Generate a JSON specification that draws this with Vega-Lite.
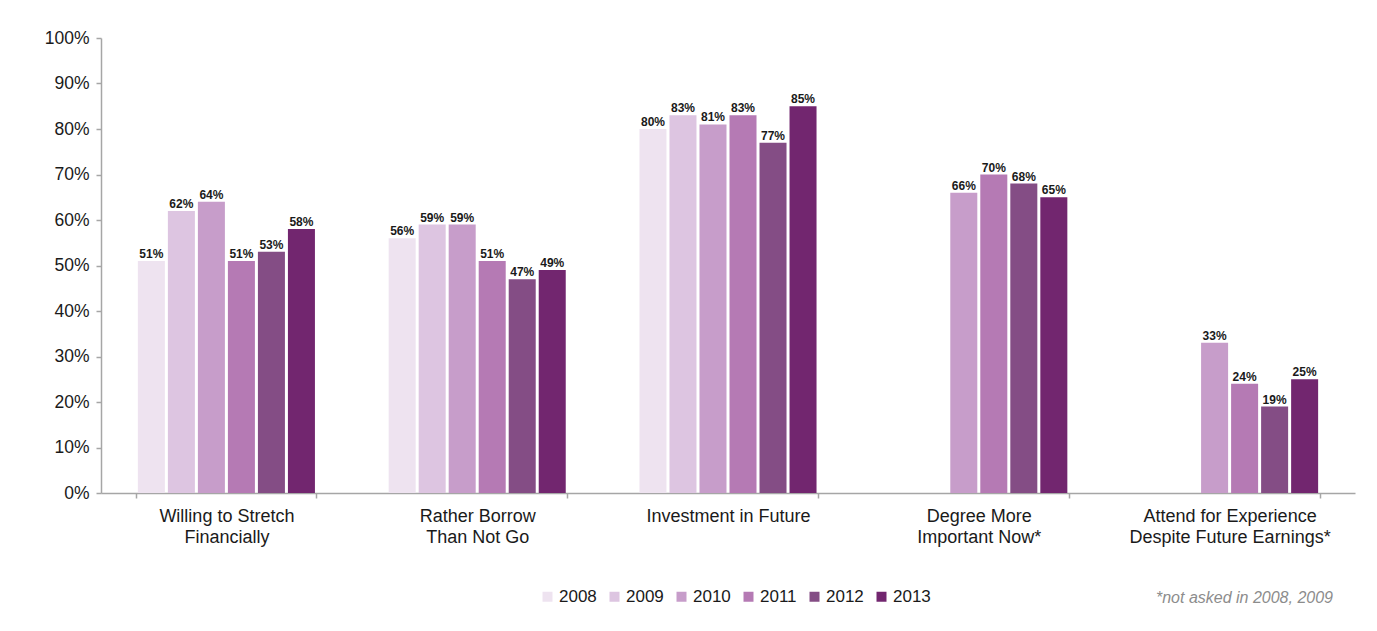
{
  "$schema": "https://vega.github.io/schema/vega-lite/v6.json",
  "width": 1254,
  "height": 455,
  "autosize": {"type": "none"},
  "padding": {"left": 101, "top": 38, "right": 22, "bottom": 138},
  "background": "white",
  "config": {
    "font": "Liberation Sans",
    "view": {"stroke": null},
    "axis": {"domainColor": "#A6A6A6", "tickColor": "#A6A6A6", "domainWidth": 1.5, "tickWidth": 1.5, "labelColor": "#1a1a1a", "labelFont": "Liberation Sans", "grid": false}
  },
  "title": {
    "text": "*not asked in 2008, 2009",
    "orient": "bottom",
    "anchor": "end",
    "frame": "group",
    "fontStyle": "italic",
    "fontWeight": "normal",
    "fontSize": 16,
    "color": "#8C8C8C",
    "font": "Liberation Sans",
    "offset": -15,
    "dx": -22
  },
  "data": {
    "values": [
      {"category": "Willing to Stretch Financially", "year": "2008", "value": 0.51},
      {"category": "Willing to Stretch Financially", "year": "2009", "value": 0.62},
      {"category": "Willing to Stretch Financially", "year": "2010", "value": 0.64},
      {"category": "Willing to Stretch Financially", "year": "2011", "value": 0.51},
      {"category": "Willing to Stretch Financially", "year": "2012", "value": 0.53},
      {"category": "Willing to Stretch Financially", "year": "2013", "value": 0.58},
      {"category": "Rather Borrow Than Not Go", "year": "2008", "value": 0.56},
      {"category": "Rather Borrow Than Not Go", "year": "2009", "value": 0.59},
      {"category": "Rather Borrow Than Not Go", "year": "2010", "value": 0.59},
      {"category": "Rather Borrow Than Not Go", "year": "2011", "value": 0.51},
      {"category": "Rather Borrow Than Not Go", "year": "2012", "value": 0.47},
      {"category": "Rather Borrow Than Not Go", "year": "2013", "value": 0.49},
      {"category": "Investment in Future", "year": "2008", "value": 0.80},
      {"category": "Investment in Future", "year": "2009", "value": 0.83},
      {"category": "Investment in Future", "year": "2010", "value": 0.81},
      {"category": "Investment in Future", "year": "2011", "value": 0.83},
      {"category": "Investment in Future", "year": "2012", "value": 0.77},
      {"category": "Investment in Future", "year": "2013", "value": 0.85},
      {"category": "Degree More Important Now*", "year": "2010", "value": 0.66},
      {"category": "Degree More Important Now*", "year": "2011", "value": 0.70},
      {"category": "Degree More Important Now*", "year": "2012", "value": 0.68},
      {"category": "Degree More Important Now*", "year": "2013", "value": 0.65},
      {"category": "Attend for Experience Despite Future Earnings*", "year": "2010", "value": 0.33},
      {"category": "Attend for Experience Despite Future Earnings*", "year": "2011", "value": 0.24},
      {"category": "Attend for Experience Despite Future Earnings*", "year": "2012", "value": 0.19},
      {"category": "Attend for Experience Despite Future Earnings*", "year": "2013", "value": 0.25}
    ]
  },
  "encoding": {
    "x": {
      "field": "category",
      "type": "nominal",
      "sort": ["Willing to Stretch Financially", "Rather Borrow Than Not Go", "Investment in Future", "Degree More Important Now*", "Attend for Experience Despite Future Earnings*"],
      "scale": {"paddingInner": 0.282, "paddingOuter": 0.141},
      "axis": {
        "title": null,
        "labelAngle": 0,
        "labelFontSize": 18,
        "labelLineHeight": 21,
        "labelPadding": 9,
        "tickSize": 5,
        "tickBand": "extent",
        "labelLimit": 300,
        "labelExpr": "datum.value == 'Willing to Stretch Financially' ? ['Willing to Stretch', 'Financially'] : datum.value == 'Rather Borrow Than Not Go' ? ['Rather Borrow', 'Than Not Go'] : datum.value == 'Degree More Important Now*' ? ['Degree More', 'Important Now*'] : datum.value == 'Attend for Experience Despite Future Earnings*' ? ['Attend for Experience', 'Despite Future Earnings*'] : datum.value"
      }
    },
    "xOffset": {
      "field": "year",
      "type": "nominal",
      "sort": ["2008", "2009", "2010", "2011", "2012", "2013"],
      "scale": {"domain": ["2008", "2009", "2010", "2011", "2012", "2013"], "paddingInner": 0.1, "paddingOuter": 0.05}
    },
    "y": {
      "field": "value",
      "type": "quantitative",
      "scale": {"domain": [0, 1], "nice": false},
      "axis": {
        "title": null,
        "format": ".0%",
        "values": [0, 0.1, 0.2, 0.3, 0.4, 0.5, 0.6, 0.7, 0.8, 0.9, 1],
        "labelFontSize": 17.5,
        "labelPadding": 7,
        "tickSize": 5
      }
    }
  },
  "layer": [
    {
      "mark": {"type": "bar"},
      "encoding": {
        "color": {
          "field": "year",
          "type": "nominal",
          "scale": {"domain": ["2008", "2009", "2010", "2011", "2012", "2013"], "range": ["#EEE3F0", "#DDC5E1", "#C79DCA", "#B57AB4", "#844D85", "#72266F"]},
          "legend": {
            "title": null,
            "orient": "none",
            "direction": "horizontal",
            "legendX": 438,
            "legendY": 550,
            "padding": 0,
            "symbolType": "square",
            "symbolSize": 100,
            "symbolStrokeWidth": 0,
            "symbolOpacity": 1,
            "labelFontSize": 17,
            "labelColor": "#1a1a1a",
            "labelFont": "Liberation Sans",
            "labelOffset": 3,
            "columnPadding": 9
          }
        }
      }
    },
    {
      "mark": {"type": "text", "fontWeight": "bold", "fontSize": 12, "color": "#1a1a1a", "baseline": "alphabetic", "dy": -3},
      "encoding": {
        "text": {"field": "value", "type": "quantitative", "format": ".0%"}
      }
    }
  ]
}
